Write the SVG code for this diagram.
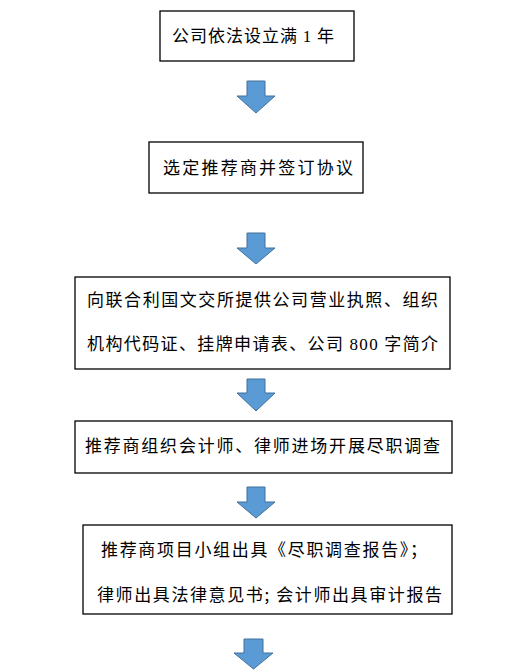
<svg xmlns="http://www.w3.org/2000/svg" width="530" height="672" viewBox="0 0 530 672">
<style>
.box{fill:#fff;stroke:#000;stroke-width:1.3}
.t{font-family:"Noto Sans CJK SC","Liberation Sans",sans-serif;font-size:17px;fill:#000}
.d{font-family:"Liberation Serif",serif}
.arr{fill:#5b9bd5;stroke:#41719c;stroke-width:1}
</style>
<rect width="530" height="672" fill="#fff"/>
<g id="n1"><rect class="box" x="160" y="11" width="194" height="50"/><text class="t" x="172" y="42" textLength="162" lengthAdjust="spacing">公司依法设立满 <tspan class="d">1</tspan> 年</text></g>
<g id="n2"><rect class="box" x="149" y="142" width="214" height="51"/><text class="t" x="163" y="174" textLength="190" lengthAdjust="spacing">选定推荐商并签订协议</text></g>
<g id="n3"><rect class="box" x="75" y="277" width="375" height="92"/><text class="t" x="87" y="306" textLength="351" lengthAdjust="spacing">向联合利国文交所提供公司营业执照、组织</text><text class="t" x="87" y="350" textLength="351" lengthAdjust="spacing">机构代码证、挂牌申请表、公司 <tspan class="d">800</tspan> 字简介</text></g>
<g id="n4"><rect class="box" x="75" y="421" width="377" height="52"/><text class="t" x="85" y="452" textLength="355" lengthAdjust="spacing">推荐商组织会计师、律师进场开展尽职调查</text></g>
<g id="n5"><rect class="box" x="83" y="525" width="369" height="89"/><text class="t" x="101" y="556" textLength="326" lengthAdjust="spacing">推荐商项目小组出具《尽职调查报告》；</text><text class="t" x="97" y="601" textLength="345" lengthAdjust="spacing">律师出具法律意见书; 会计师出具审计报告</text></g>
<g id="connectors">
<polygon class="arr" points="247,81 265,81 265,96 275,96 256,113 237,96 247,96"/>
<polygon class="arr" points="247,233 265,233 265,248 275,248 256,264 237,248 247,248"/>
<polygon class="arr" points="247,379 265,379 265,393 275,393 256,411 237,393 247,393"/>
<polygon class="arr" points="247,487 265,487 265,502 275,502 256,518 237,502 247,502"/>
<polygon class="arr" points="244,639 263,639 263,653 273,653 253.5,669 234,653 244,653"/>
</g>
</svg>
